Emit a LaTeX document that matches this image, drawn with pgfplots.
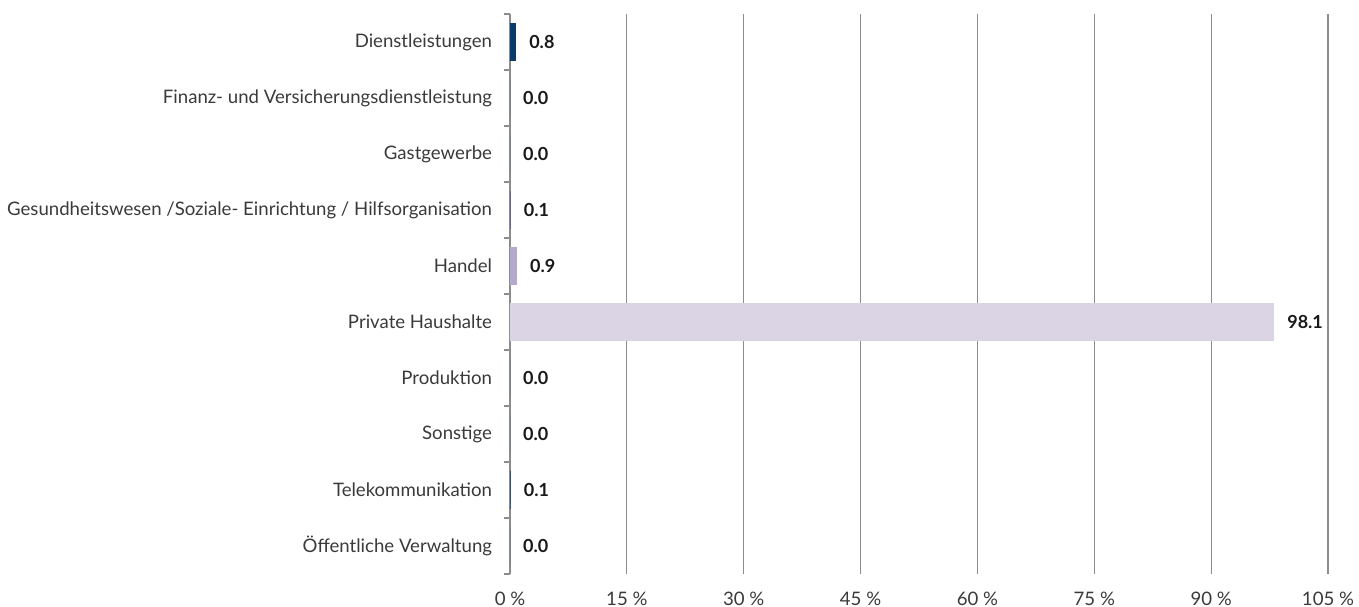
\documentclass[border=0pt]{standalone}
\usepackage{pgfplots}
\pgfplotsset{compat=1.18}
\usepackage{fontspec}
\setmainfont{Lato}
\definecolor{txt}{HTML}{3A3A3A}
\definecolor{gridc}{HTML}{8C8C8C}
\definecolor{cA}{HTML}{0B3A6B}
\definecolor{cD}{HTML}{6B6585}
\definecolor{cE}{HTML}{B4AACB}
\definecolor{cF}{HTML}{DBD4E4}
\definecolor{cI}{HTML}{3E5069}
\begin{document}
\begin{tikzpicture}
\begin{axis}[
  scale only axis,
  width=409pt, height=280pt,
  xmin=0, xmax=105, ymin=-0.5, ymax=9.5,
  y dir=reverse,
  axis y line*=left, axis x line*=bottom,
  x axis line style={draw=none},
  y axis line style={draw=gridc, line width=0.8pt},
  xtick={0,15,...,105},
  xticklabels={0 \%,15 \%,30 \%,45 \%,60 \%,75 \%,90 \%,105 \%},
  xmajorgrids, major grid style={draw=gridc, line width=0.6pt},
  major x tick style={draw=none},
  ytick={0,...,9},
  yticklabels={Dienstleistungen,Finanz- und Versicherungsdienstleistung,Gastgewerbe,Gesundheitswesen /Soziale- Einrichtung / Hilfsorganisation,Handel,Private Haushalte,Produktion,Sonstige,Telekommunikation,Öffentliche Verwaltung},
  major y tick style={draw=none},
  minor ytick={-0.5,0.5,...,9.5},
  minor y tick style={draw=gridc, line width=0.8pt},
  minor tick length=3pt,
  tick align=outside,
  tick label style={font=\fontsize{9.3}{11}\selectfont, text=txt},
  yticklabel style={xshift=-1.2pt},
  xticklabel style={yshift=-1pt},
  xbar, bar width=19pt, bar shift=0pt,
  nodes near coords,
  nodes near coords style={font=\fontsize{9}{11}\selectfont\bfseries, text=black!90, anchor=west, xshift=3pt,
    /pgf/number format/.cd, fixed, precision=1, zerofill, assume math mode=true},
  every axis plot/.append style={draw=none},
]
\addplot[fill=cA] coordinates {(0.8,0)};
\addplot[fill=cA] coordinates {(0.0,1)};
\addplot[fill=cA] coordinates {(0.0,2)};
\addplot[fill=cD] coordinates {(0.1,3)};
\addplot[fill=cE] coordinates {(0.9,4)};
\addplot[fill=cF] coordinates {(98.1,5)};
\addplot[fill=cA] coordinates {(0.0,6)};
\addplot[fill=cA] coordinates {(0.0,7)};
\addplot[fill=cI] coordinates {(0.1,8)};
\addplot[fill=cA] coordinates {(0.0,9)};
\end{axis}
\pgfresetboundingbox
\path[use as bounding box] ([xshift=-255pt,yshift=-16.5pt]current axis.south west) rectangle ([xshift=15.5pt,yshift=7pt]current axis.north east);
\end{tikzpicture}
\end{document}
